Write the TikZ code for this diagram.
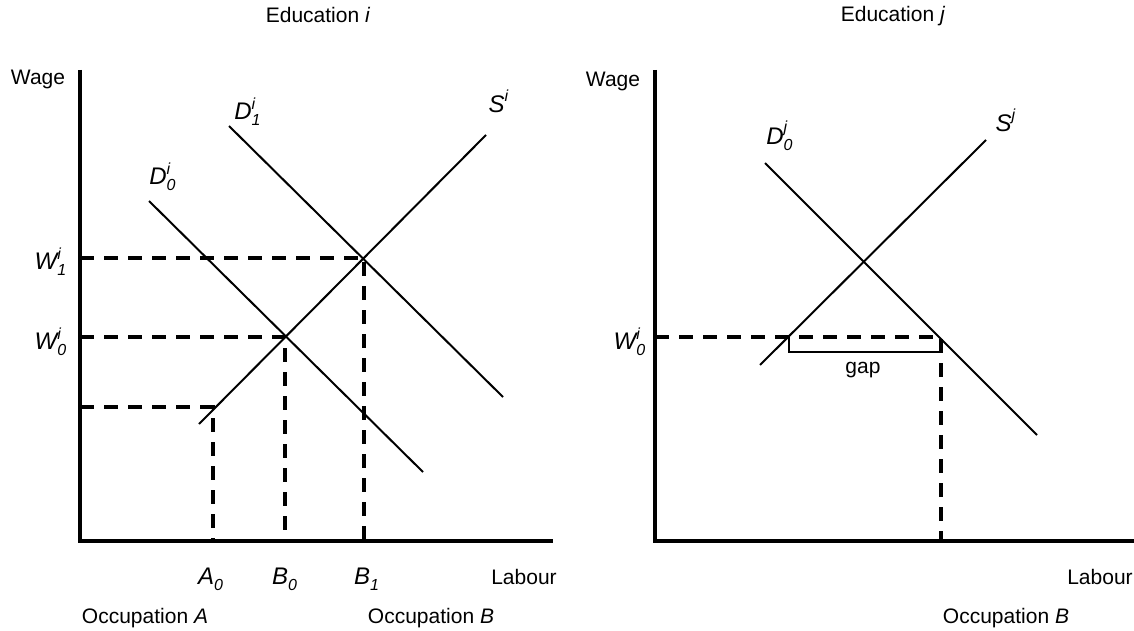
\documentclass[tikz,border=0pt]{standalone}
\usepackage{amsmath}
\usepackage{fontspec}
\setmainfont{Liberation Sans}
\usetikzlibrary{positioning}
\newcommand{\ecvar}[3]{$\textit{#1}^{\textit{#2}}_{\textit{#3}}$}

\begin{document}
\begin{tikzpicture}[x=0.5pt,y=-0.5pt,
  axis/.style={line width=2.2pt},
  curve/.style={line width=1pt},
  guide/.style={line width=1.8pt,dash pattern=on 7pt off 5pt},
  lbl/.style={font=\fontsize{10.5}{12}\selectfont,inner sep=0pt},
  var/.style={font=\fontsize{12}{14}\selectfont,inner sep=0pt}]
\useasboundingbox (0,0) rectangle (1134,631);

% Education i
\coordinate (topA) at (80,70);
\coordinate (oA) at (80,541);
\coordinate (endA) at (553,541);
\coordinate (w1A) at (80,258);
\coordinate (w0A) at (80,337);
\coordinate (wlA) at (80,407);
\coordinate (eq1) at (364,258);
\coordinate (eq0) at (285,337);
\coordinate (sA) at (213,407);
\coordinate (a0) at (213,541);
\coordinate (b0) at (285,541);
\coordinate (b1) at (364,541);
\coordinate (d1top) at (229,126);
\coordinate (d1bot) at (503,397);
\coordinate (d0top) at (149,201);
\coordinate (d0bot) at (423,472);
\coordinate (sbot) at (199,424);
\coordinate (stop) at (486,135);

\draw[axis] (topA) -- (oA) -- (endA);
\draw[guide] (w1A) -- (eq1) -- (b1);
\draw[guide] (w0A) -- (eq0) -- (b0);
\draw[guide] (wlA) -- (sA) -- (a0);
\draw[curve] (d1top) -- (d1bot);
\draw[curve] (d0top) -- (d0bot);
\draw[curve] (sbot) -- (stop);

\node[lbl] (eduA) at (318,15) {Education \textit{i}};
\node[lbl] (wageA) at (38,79) {Wage};
\node[var] (lw1) at (51,262) {\ecvar{W}{i}{1}};
\node[var] (lw0) at (51,342) {\ecvar{W}{i}{0}};
\node[var] (ld1) at (248,112) {\ecvar{D}{i}{1}};
\node[var] (ld0) at (163,177) {\ecvar{D}{i}{0}};
\node[var] (lsA) at (499,104) {\ecvar{S}{i}{}};
\node[var] (la0) at (211,579) {\ecvar{A}{}{0}};
\node[var] (lb0) at (285,579) {\ecvar{B}{}{0}};
\node[var] (lb1) at (367,579) {\ecvar{B}{}{1}};
\node[lbl] (labA) at (524,577) {Labour};
\node[lbl] (occA) at (145,618) {Occupation \textit{A}};
\node[lbl] (occB) at (431,618) {Occupation \textit{B}};

% Education j
\coordinate (topB) at (655,70);
\coordinate (oB) at (655,541);
\coordinate (endB) at (1134,541);
\coordinate (w0B) at (655,337);
\coordinate (dcut) at (941,337);
\coordinate (bB) at (941,541);
\coordinate (gapL) at (789,337);
\coordinate (gapLL) at (789,352);
\coordinate (gapR) at (941,352);
\coordinate (djtop) at (765,163);
\coordinate (djbot) at (1037,435);
\coordinate (sjbot) at (760,365);
\coordinate (sjtop) at (986,140);

\draw[axis] (topB) -- (oB) -- (endB);
\draw[guide] (w0B) -- (dcut) -- (bB);
\draw[line width=0.8pt] (gapL) -- (gapLL) -- (gapR);
\draw[curve] (djtop) -- (djbot);
\draw[curve] (sjbot) -- (sjtop);

\node[lbl] (eduB) at (893,16) {Education \textit{j}};
\node[lbl] (wageB) at (613,81) {Wage};
\node[var] (lw0B) at (630,342) {\ecvar{W}{i}{0}};
\node[var] (ldj) at (780,136) {\ecvar{D}{j}{0}};
\node[var] (lsj) at (1006,123) {\ecvar{S}{j}{}};
\node[lbl] (gap) at (863,370) {gap};
\node[lbl] (labB) at (1100,577) {Labour};
\node[lbl] (occBB) at (1006,618) {Occupation \textit{B}};
\end{tikzpicture}
\end{document}
